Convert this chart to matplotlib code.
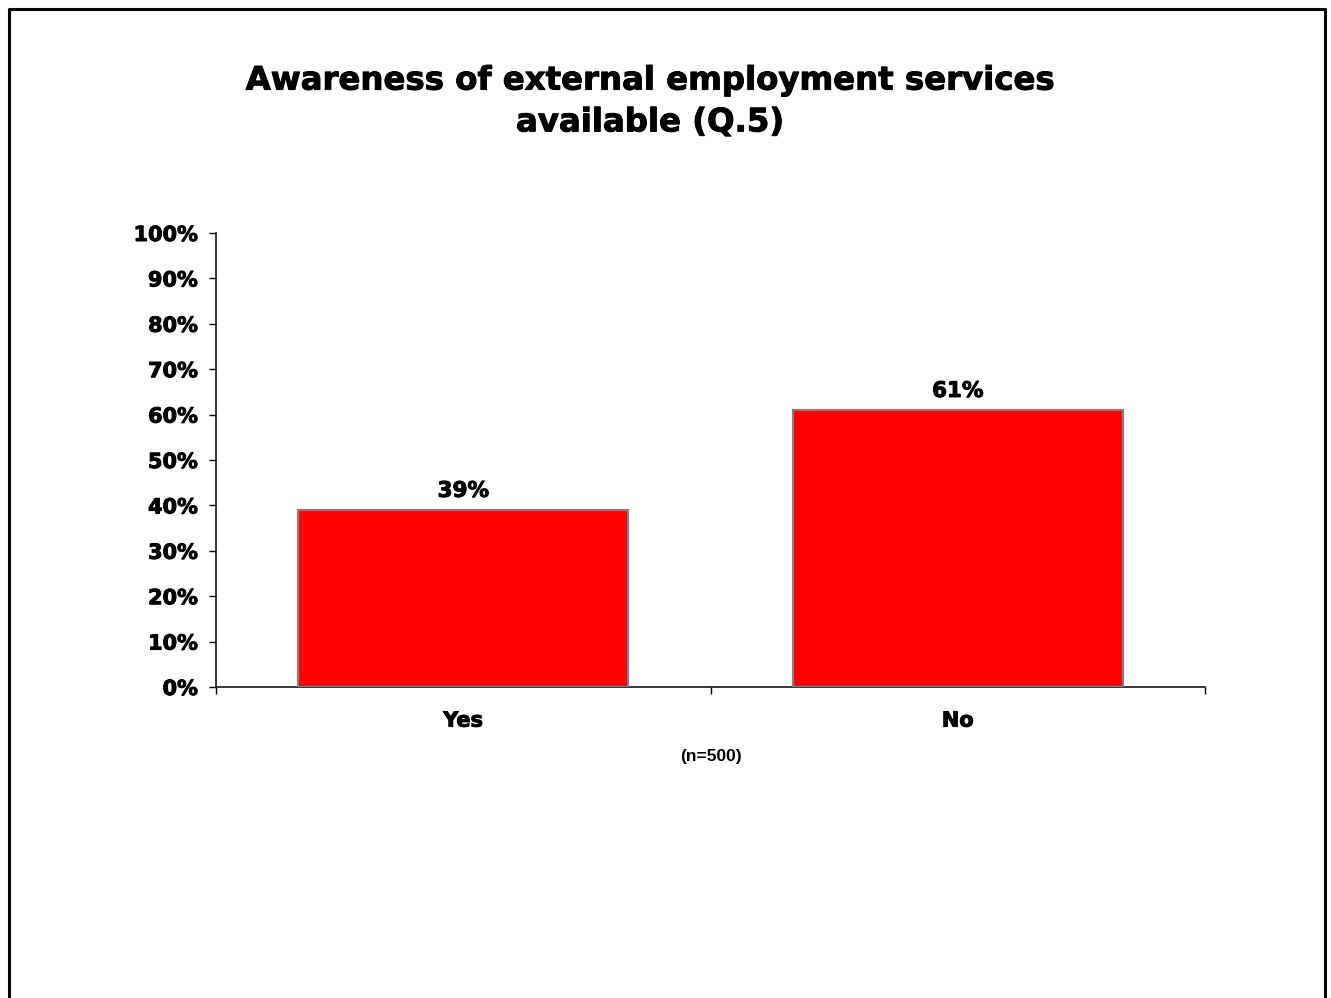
import numpy as np
import matplotlib.pyplot as plt
import matplotlib.patheffects as pe
from matplotlib.lines import Line2D
from matplotlib.ticker import FixedLocator, PercentFormatter

# survey answers and their shares (%)
categories = ["Yes", "No"]
shares = [39, 61]
title_text = "Awareness of external employment services\navailable (Q.5)"
base_note = "(n=500)"

W, H = 1331, 998
fig = plt.figure(figsize=(W / 100, H / 100), dpi=100)
fig.patch.set_facecolor("white")

heavy = [pe.withStroke(linewidth=0.7, foreground="black")]
font = "DejaVu Sans"

# plot area in pixel coordinates
left, right, top, bottom = 216, 1205, 233, 687
ax = fig.add_axes([left / W, 1 - bottom / H, (right - left) / W, (bottom - top) / H])

x = np.arange(len(categories))
bars = ax.bar(x, shares, width=0.667, color="#ff0000", edgecolor="#808080", linewidth=1.6, zorder=3)

for rect, v in zip(bars, shares):
    ax.text(rect.get_x() + rect.get_width() / 2, v + 2.0, f"{v}%", ha="center", va="bottom",
            fontsize=15.5, fontweight="bold", family=font, path_effects=heavy)

ax.set_xlim(-0.5, len(categories) - 0.5)
ax.set_ylim(0, 100)
ax.set_yticks(np.arange(0, 101, 10))
ax.yaxis.set_major_formatter(PercentFormatter(decimals=0))
ax.set_xticks(x)
ax.set_xticklabels(categories)
ax.xaxis.set_minor_locator(FixedLocator(np.arange(-0.5, len(categories), 1.0)))

ax.tick_params(axis="y", direction="out", length=5, width=1, pad=8)
ax.tick_params(axis="x", which="major", length=0, pad=17)
ax.tick_params(axis="x", which="minor", direction="out", length=5, width=1)
for lab in ax.get_xticklabels() + ax.get_yticklabels():
    lab.set_fontweight("bold")
    lab.set_family(font)
    lab.set_fontsize(15)
    lab.set_path_effects(heavy)

for side in ("top", "right"):
    ax.spines[side].set_visible(False)
for side in ("left", "bottom"):
    ax.spines[side].set_linewidth(1.1)
    ax.spines[side].set_color("black")

fig.text(650 / W, 1 - 102 / H, title_text, ha="center", va="center", fontsize=23.3,
         fontweight="bold", family=font, linespacing=1.45, path_effects=heavy)
fig.text(711 / W, 1 - 756 / H, base_note, ha="center", va="center", fontsize=12.5,
         fontweight="bold", family="Liberation Sans")

# outer frame (no bottom edge)
bx0, bx1, by = 8.5 / W, 1325 / W, 1 - 8.5 / H
fig.add_artist(Line2D([bx0, bx0, bx1, bx1], [0, by, by, 0], transform=fig.transFigure,
                      color="black", linewidth=2.2))

fig.savefig("out.png", dpi=100)
